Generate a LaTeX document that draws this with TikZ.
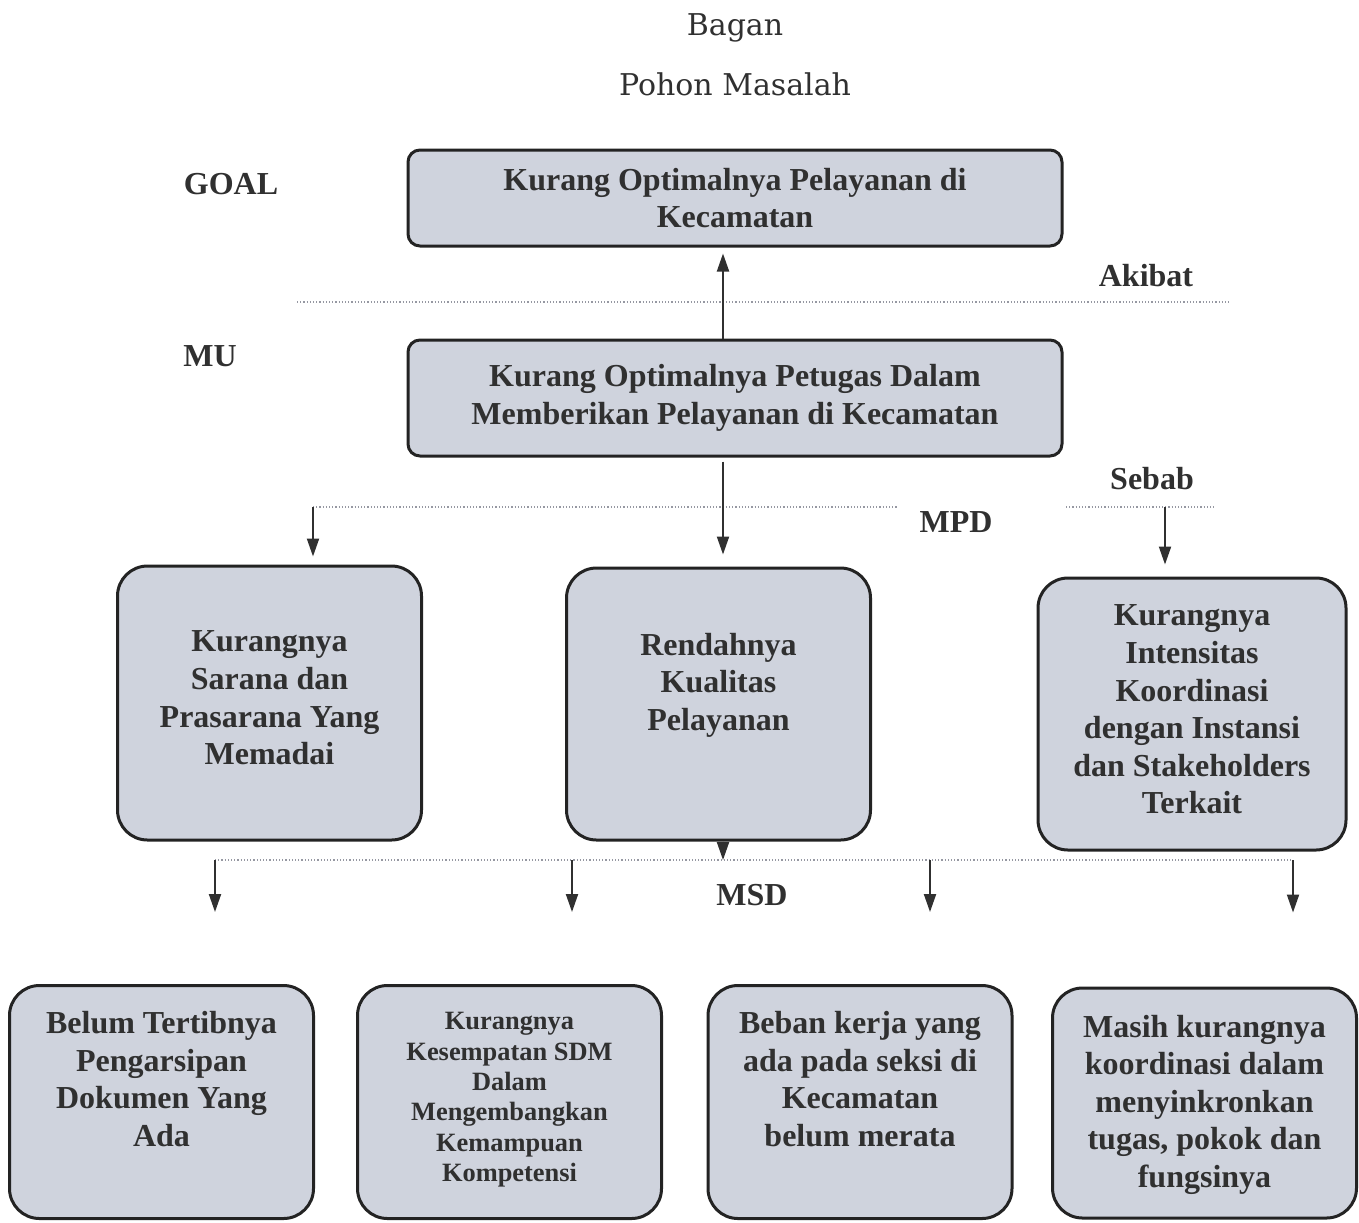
\documentclass[tikz,border=0pt]{standalone}
\usepackage{fontspec}
\setmainfont{Liberation Serif}
\newfontfamily\titlefont{DejaVu Serif}
\usetikzlibrary{arrows.meta}
\definecolor{boxfill}{RGB}{207,211,221}
\definecolor{boxline}{RGB}{35,35,35}
\definecolor{inkgray}{RGB}{48,48,48}
\definecolor{dotgray}{RGB}{150,152,162}
\tikzset{
  pohonbox/.style={draw=boxline, fill=boxfill, line width=1.5pt, inner sep=0pt},
  topbox/.style={pohonbox, rounded corners=6pt, minimum width=327pt, align=center,
    text=inkgray, font=\bfseries\fontsize{16}{18.8}\selectfont},
  causebox/.style={pohonbox, rounded corners=15pt, minimum width=152pt},
  boxtext/.style={text=inkgray, align=center, inner sep=0pt,
    font=\bfseries\fontsize{16}{18.8}\selectfont},
  smalltext/.style={boxtext, font=\bfseries\fontsize{13.2}{15.2}\selectfont},
  levelname/.style={text=inkgray, inner sep=0pt, font=\bfseries\fontsize{16}{19}\selectfont},
  titletext/.style={text=inkgray, inner sep=0pt, font=\titlefont\fontsize{15}{18}\selectfont},
  sepline/.style={draw=dotgray, line width=0.6pt, densely dotted},
  arrowline/.style={draw=inkgray, line width=1pt, -{Triangle[length=9pt,width=6pt]}}
}
\begin{document}
\begin{tikzpicture}[x=0.5pt, y=-0.5pt]
  \useasboundingbox (0,0) rectangle (1359,1222);

  % Coordinates
  \coordinate (akibatL) at (297,302);
  \coordinate (akibatR) at (1230,302);
  \coordinate (mpdL) at (313,507);
  \coordinate (mpdGapL) at (897,507);
  \coordinate (mpdGapR) at (1066,507);
  \coordinate (mpdC) at (1165,507);
  \coordinate (mpdR) at (1215,507);
  \coordinate (msdL) at (215,860);
  \coordinate (msdM) at (723,860);
  \coordinate (msdR) at (1293,860);
  \coordinate (msdB) at (572,860);
  \coordinate (msdC) at (930,860);

  % Title
  \node[titletext] (bagan) at (735,28) {Bagan};
  \node[titletext] (pohon) at (735,84) {Pohon Masalah};

  % Level names
  \node[levelname] (goalname) at (231,184) {GOAL};
  \node[levelname] (muname) at (210,356) {MU};
  \node[levelname] (akibat) at (1146,276) {Akibat};
  \node[levelname] (sebab) at (1152,479) {Sebab};
  \node[levelname] (mpd) at (956,522) {MPD};
  \node[levelname] (msd) at (752,895) {MSD};

  % Goal and core problem
  \node[topbox, minimum height=48pt] (goal) at (735,198)
    {Kurang Optimalnya Pelayanan di\\Kecamatan};
  \node[topbox, minimum height=58pt] (mu) at (735,398)
    {Kurang Optimalnya Petugas Dalam\\Memberikan Pelayanan di Kecamatan};

  % Direct causes
  \node[causebox, minimum height=137pt,
    label={[boxtext, below=33pt]north:{Kurangnya\\Sarana dan\\Prasarana Yang\\Memadai}}]
    (sarana) at (269.5,703) {};
  \node[causebox, minimum height=136pt,
    label={[boxtext, below=33pt]north:{Rendahnya\\Kualitas\\Pelayanan}}]
    (kualitas) at (718.5,704) {};
  \node[causebox, minimum width=154pt, minimum height=136pt,
    label={[boxtext, below=14pt]north:{Kurangnya\\Intensitas\\Koordinasi\\dengan Instansi\\dan Stakeholders\\Terkait}}]
    (koordinasi) at (1192,714) {};

  % Indirect causes
  \node[causebox, minimum height=116.5pt,
    label={[boxtext, below=13.5pt]north:{Belum Tertibnya\\Pengarsipan\\Dokumen Yang\\Ada}}]
    (arsip) at (161.5,1102) {};
  \node[causebox, minimum height=116.5pt,
    label={[smalltext, below=14pt]north:{Kurangnya\\Kesempatan SDM\\Dalam\\Mengembangkan\\Kemampuan\\Kompetensi}}]
    (sdm) at (509.5,1102) {};
  \node[causebox, minimum height=116.5pt,
    label={[boxtext, below=13.5pt]north:{Beban kerja yang\\ada pada seksi di\\Kecamatan\\belum merata}}]
    (beban) at (860,1102) {};
  \node[causebox, minimum height=115pt,
    label={[boxtext, below=14pt]north:{Masih kurangnya\\koordinasi dalam\\menyinkronkan\\tugas, pokok dan\\fungsinya}}]
    (tupoksi) at (1204.5,1103) {};

  % Dotted separators
  \draw[sepline] (akibatL) -- (akibatR);
  \draw[sepline] (mpdL) -- (mpdGapL);
  \draw[sepline] (mpdGapR) -- (mpdR);
  \draw[sepline] (msdL) -- (msdR);

  % Arrows
  \draw[arrowline, shorten >=3pt] ([xshift=-6pt]mu.north) -- ([xshift=-6pt]goal.south);
  \draw[arrowline, shorten <=2pt, shorten >=6pt] ([xshift=-6pt]mu.south) -- ([xshift=2.25pt]kualitas.north);
  \draw[arrowline, shorten >=4pt] (mpdL) -- (mpdL |- sarana.north);
  \draw[arrowline, shorten >=6pt] (mpdC) -- (mpdC |- koordinasi.north);
  \draw[arrowline] ([xshift=2.25pt]kualitas.south) -- (msdM);
  \draw[arrowline, shorten >=36pt] (msdL) -- (msdL |- arsip.north);
  \draw[arrowline, shorten >=36pt] (msdB) -- (msdB |- sdm.north);
  \draw[arrowline, shorten >=36pt] (msdC) -- (msdC |- beban.north);
  \draw[arrowline, shorten >=37pt] (msdR) -- (msdR |- tupoksi.north);
\end{tikzpicture}
\end{document}
